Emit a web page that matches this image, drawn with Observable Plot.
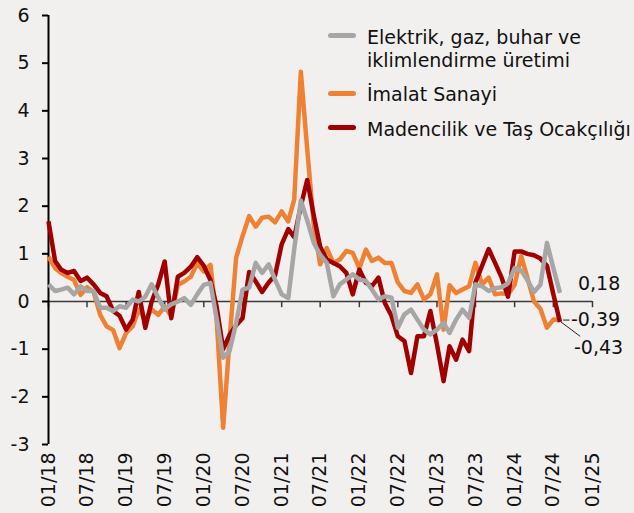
<!DOCTYPE html>
<html><head><meta charset="utf-8">
<script src="https://cdn.jsdelivr.net/npm/d3@7"></script>
<script src="https://cdn.jsdelivr.net/npm/@observablehq/plot@0.6"></script>
<style>
html,body{margin:0;padding:0;background:#f2f0ef;overflow:hidden;}
#wrap{position:relative;width:634px;height:513px;overflow:hidden;font-family:"DejaVu Sans",sans-serif;background:#f2f0ef;}
#wrap svg{position:absolute;left:0;top:0;}
.sw{position:absolute;left:328px;width:28px;height:5px;border-radius:3px;}
.lt{position:absolute;left:367px;font-size:19px;line-height:22.5px;color:#111;white-space:nowrap;}
</style></head><body><div id="wrap"></div>
<script>
// ---- data ----
const firstMonth = "2018-01";
const elektrik = [0.36,0.22,0.25,0.29,0.15,0.32,0.22,0.22,-0.13,-0.13,
 -0.2,-0.1,-0.13,0.04,0.0,0.1,0.36,0.08,-0.17,-0.06,
 0.0,0.07,-0.07,0.15,0.35,0.39,-0.35,-1.18,-1.04,-0.45,
 0.25,0.29,0.81,0.6,0.78,0.46,0.15,0.07,1.1,2.12,
 1.7,1.23,0.98,0.81,0.11,0.36,0.46,0.57,0.46,0.43,
 0.25,0.04,0.11,0.08,-0.55,-0.27,-0.17,-0.38,-0.59,-0.69,
 -0.59,-0.45,-0.66,-0.38,-0.17,-0.34,0.36,0.32,0.22,0.28,
 0.3,0.38,0.7,0.65,0.45,0.2,0.35,1.23,0.7,0.18];
const imalat = [0.94,0.7,0.6,0.52,0.45,0.14,0.3,0.2,-0.28,-0.52,
 -0.6,-0.98,-0.66,-0.52,-0.17,-0.38,-0.17,-0.28,-0.1,-0.31,
 0.35,0.42,0.52,0.8,0.63,0.77,-0.35,-2.65,-0.8,0.92,
 1.37,1.79,1.57,1.76,1.78,1.66,1.89,1.68,2.14,4.82,
 3.2,1.6,0.78,1.12,0.81,0.88,1.06,1.02,0.7,1.09,
 0.85,0.92,0.81,0.81,0.4,0.22,0.18,0.36,0.04,0.15,
 0.57,-0.59,0.34,0.18,0.25,0.32,0.81,0.36,0.5,0.15,
 0.17,0.15,0.35,0.95,0.5,0.0,-0.15,-0.55,-0.38,-0.39];
const madencilik = [1.68,0.85,0.67,0.6,0.64,0.43,0.5,0.36,0.18,0.11,
 -0.2,-0.3,-0.59,-0.38,0.2,-0.55,0.0,0.36,0.84,-0.35,
 0.52,0.6,0.73,0.93,0.75,0.45,-0.1,-1.0,-0.7,-0.5,
 -0.35,0.62,0.42,0.2,0.4,0.55,1.2,1.52,1.35,2.0,
 2.55,1.8,1.15,0.88,0.81,0.74,0.6,0.15,0.67,0.39,
 0.32,0.5,-0.03,-0.3,-0.73,-0.83,-1.5,-0.73,-0.73,-0.2,
 -0.9,-1.67,-0.94,-1.22,-0.8,-1.04,0.4,0.75,1.1,0.81,
 0.5,0.1,1.05,1.05,1.0,0.97,0.9,0.75,0.15,-0.43];
const seriesKeys = ["elektrik","imalat","madencilik"];
const legendLabels = [["Elektrik, gaz, buhar ve","iklimlendirme üretimi"],["İmalat Sanayi"],["Madencilik ve Taş Ocakçılığı"]];
const yTicks = [-3,-2,-1,0,1,2,3,4,5,6];
const xTickLabels = ["01/18","07/18","01/19","07/19","01/20","07/20","01/21","07/21","01/22","07/22","01/23","07/23","01/24","07/24","01/25"];

// ---- styles ----
const colors = {elektrik:"#a6a6a6", imalat:"#ee8133", madencilik:"#a00000"};
const drawOrder = ["imalat","madencilik","elektrik"];
const labelOffsets = {elektrik:{dx:18,dy:-9}, imalat:{dx:11,dy:0}, madencilik:{dx:14,dy:26}};
const legendTops = [{sw:32.5, tx:26.2},{sw:90.5, tx:83},{sw:124.5, tx:118}];

// ---- build ----
const values = {elektrik, imalat, madencilik};
const [fy, fm] = firstMonth.split("-").map(Number);
const start = new Date(Date.UTC(fy, fm-1, 1));
const dates = d3.utcMonth.range(start, d3.utcMonth.offset(start, elektrik.length));
const parseTick = s => { const [m,y] = s.split("/").map(Number); return new Date(Date.UTC(2000+y, m-1, 1)); };
const xTicks = xTickLabels.map(parseTick);
const tickLabelMap = new Map(xTicks.map((d,i)=>[+d, xTickLabels[i]]));
const fmtNum = v => v.toFixed(2).replace(".", ",");
const last = dates[dates.length-1];

const rows = k => values[k].map((v,i)=>({date:dates[i], value:v}));

const marks = [
  Plot.ruleY([0], {stroke:"#3a3a3a", strokeWidth:1.5}),
  Plot.ruleX(xTicks, {x:d=>d, y1:0, y2:-0.13, stroke:"#3a3a3a", strokeWidth:1.5}),
  Plot.axisY({ticks:yTicks, tickSize:6, tickPadding:13, tickFormat:d=>String(d), stroke:"#000", strokeWidth:2, fontSize:19, label:null}),
  Plot.ruleX([xTicks[0]], {y1:yTicks[0], y2:yTicks[yTicks.length-1], stroke:"#000", strokeWidth:2}),
  Plot.axisX({ticks:xTicks, tickFormat:d=>tickLabelMap.get(+d), tickRotate:-90, tickSize:0, tickPadding:8, fontSize:19, label:null}),
];
for (const k of drawOrder) {
  marks.push(Plot.line(rows(k), {x:"date", y:"value", stroke:colors[k], strokeWidth:4.5, strokeLinejoin:"round", strokeLinecap:"butt"}));
}
// leaders
const lastVal = k => values[k][values[k].length-1];
marks.push(Plot.link([{k:"imalat"}], {x1:()=>d3.utcDay.offset(last,15), x2:()=>d3.utcDay.offset(last,45), y1:d=>lastVal(d.k), y2:d=>lastVal(d.k), stroke:"#222", strokeWidth:1}));
marks.push(Plot.link([{k:"madencilik"}], {x1:()=>d3.utcDay.offset(last,5), x2:()=>d3.utcDay.offset(last,95), y1:d=>lastVal(d.k), y2:d=>lastVal(d.k)-0.3, stroke:"#222", strokeWidth:1}));
for (const k of seriesKeys) {
  marks.push(Plot.text([{date:last, value:lastVal(k)}], {x:"date", y:"value", text:d=>fmtNum(d.value), textAnchor:"start", dx:labelOffsets[k].dx, dy:labelOffsets[k].dy, fontSize:19, fill:"#111"}));
}

const chart = Plot.plot({
  width:634, height:513,
  marginLeft:48, marginRight:42, marginTop:15, marginBottom:69,
  style:{background:"transparent", fontFamily:"'DejaVu Sans', sans-serif", fontSize:"19px", color:"#111", overflow:"visible"},
  x:{type:"utc", domain:[xTicks[0], xTicks[xTicks.length-1]], label:null},
  y:{domain:[yTicks[0], yTicks[yTicks.length-1]], label:null},
  marks
});
const wrap = document.getElementById("wrap");
wrap.appendChild(chart);

seriesKeys.forEach((k,i)=>{
  const sw = document.createElement("div");
  sw.className="sw"; sw.style.top=legendTops[i].sw+"px"; sw.style.background=colors[k];
  wrap.appendChild(sw);
  const t = document.createElement("div");
  t.className="lt"; t.style.top=legendTops[i].tx+"px";
  t.innerHTML = legendLabels[i].join("<br>");
  wrap.appendChild(t);
});
</script></body></html>
